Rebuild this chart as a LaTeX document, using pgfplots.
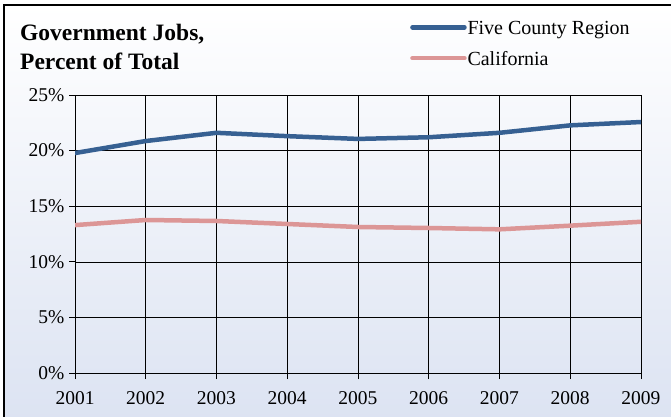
\documentclass[border=0pt]{standalone}
\usepackage{pgfplots}
\pgfplotsset{compat=1.18}
\usepackage{fontspec}
\setmainfont{Liberation Serif}[BoldFont={Liberation Serif Bold}]
\definecolor{fiveblue}{RGB}{54,96,146}
\definecolor{capink}{RGB}{220,150,150}
\definecolor{bgbot}{RGB}{220,227,242}
\begin{document}
\begin{tikzpicture}[x=1pt,y=1pt]
\useasboundingbox (0,0) rectangle (671,416);
\shade[top color=white, bottom color=bgbot] (4,-5) rectangle (680,411);
\draw[line width=1.3pt, black] (4,-10) -- (4,411) -- (680,411);
\node[anchor=base west, font=\bfseries\fontsize{23.5}{26}\selectfont, inner sep=0] at (20,375.5) {Government Jobs,};
\node[anchor=base west, font=\bfseries\fontsize{23.5}{26}\selectfont, inner sep=0] at (20,346) {Percent of Total};
\begin{axis}[
  at={(75pt,43pt)}, anchor=south west,
  scale only axis, width=566pt, height=278pt,
  xmin=2001, xmax=2009, ymin=0, ymax=25,
  xtick={2001,...,2009}, ytick={0,5,...,25},
  xtick pos=left, ytick pos=left,
  grid=major, grid style={black, line width=0.6pt},
  axis line style={black, line width=0.8pt},
  tick style={black, line width=0.8pt},
  tick align=outside, major tick length=6pt,
  /pgf/number format/assume math mode=true,
  xticklabel style={/pgf/number format/1000 sep={}, font=\fontsize{19.5}{20}\selectfont, yshift=-9pt},
  yticklabel style={font=\fontsize{19.5}{20}\selectfont, xshift=-1pt},
  yticklabel={\pgfmathprintnumber{\tick}\%},
  legend style={at={(0.5919,1.268)}, anchor=north west, draw=none, fill=none, inner sep=0pt,
    font=\fontsize{20}{21}\selectfont, row sep=14pt, column sep=0pt,
    nodes={inner sep=0.8pt}},
  legend cell align=left,
  legend image code/.code={\draw[#1] (0pt,1.5pt) -- (52pt,1.5pt);},
]
\addplot[fiveblue, line width=4.5pt, line cap=round] coordinates {
(2001,19.78) (2002,20.86) (2003,21.6) (2004,21.3) (2005,21.05) (2006,21.2) (2007,21.6) (2008,22.27) (2009,22.57)};
\addlegendentry{Five County Region}
\addplot[capink, line width=4.5pt, line cap=round] coordinates {
(2001,13.3) (2002,13.76) (2003,13.67) (2004,13.4) (2005,13.13) (2006,13.04) (2007,12.92) (2008,13.25) (2009,13.6)};
\addlegendentry{California}
\end{axis}
\end{tikzpicture}
\end{document}
